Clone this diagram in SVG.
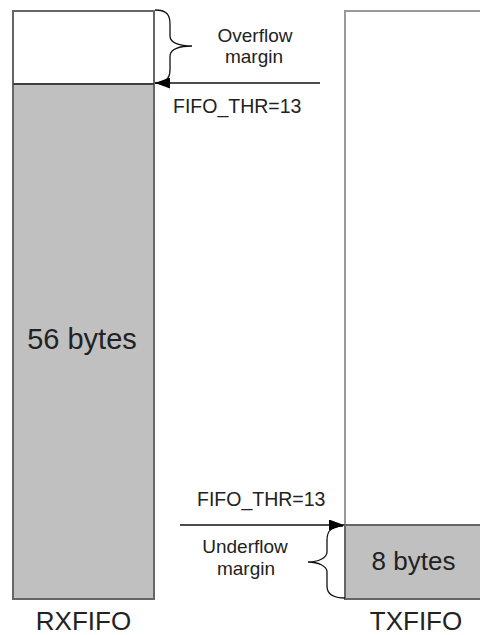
<svg xmlns="http://www.w3.org/2000/svg" width="480" height="635" viewBox="0 0 480 635">
<defs>
<style>
text{font-family:"Liberation Sans",Arial,sans-serif;fill:#222}
.big{font-size:26px}
.mid{font-size:19.5px}
.sm{font-size:19px}
.box{stroke:#666;stroke-width:2}
.conn{stroke:#111;stroke-width:1.5;fill:none}
.brace{stroke:#111;stroke-width:1.3;fill:none}
</style>
<marker id="ah" viewBox="0 0 15 11" refX="15" refY="5.5" markerWidth="15" markerHeight="11" markerUnits="userSpaceOnUse" orient="auto">
<path d="M0,0 L15,5.5 L0,11 Z" fill="#000"/>
</marker>
</defs>
<rect width="480" height="635" fill="#fff"/>
<g id="rxfifo">
<rect x="13" y="11" width="141" height="73" fill="#fff" class="box"/>
<rect x="13" y="84" width="141" height="515" fill="#c0c0c0" class="box"/>
<line x1="13" y1="84" x2="154" y2="84" stroke="#333" stroke-width="1.5"/>
<text x="82" y="349" class="big" style="font-size:29px" text-anchor="middle">56 bytes</text>
<text x="83.5" y="630" class="big" text-anchor="middle">RXFIFO</text>
</g>
<g id="txfifo">
<rect x="345" y="11" width="150" height="588" fill="#fff" stroke="#999" stroke-width="2"/>
<rect x="345" y="525" width="150" height="74" fill="#c0c0c0" class="box"/>
<text x="413.5" y="570" class="big" text-anchor="middle">8 bytes</text>
<text x="416" y="630" class="big" text-anchor="middle">TXFIFO</text>
</g>
<g id="overflow">
<path class="brace" d="M155,10 C166,10 170,14 170,24 L170,36 C170,43 180,46 192,46 C180,46 170,49 170,56 L170,70 C170,79 165,83 155,83"/>
<text x="255" y="42" class="sm" text-anchor="middle">Overflow</text>
<text x="254" y="63" class="sm" text-anchor="middle">margin</text>
<text x="173" y="113" class="mid">FIFO_THR=13</text>
</g>
<g id="underflow">
<path class="brace" d="M343,526 C332,526 327,530 327,540 L327,552 C327,558 318,562 308,562 C318,562 327,566 327,572 L327,586 C327,594 332,598 345,598"/>
<text x="245" y="553" class="sm" text-anchor="middle">Underflow</text>
<text x="246" y="575" class="sm" text-anchor="middle">margin</text>
<text x="197" y="506" class="mid">FIFO_THR=13</text>
</g>
<g id="connectors">
<line class="conn" x1="320" y1="83" x2="155" y2="83" marker-end="url(#ah)"/>
<line class="conn" x1="180" y1="525" x2="344" y2="525" marker-end="url(#ah)"/>
</g>
</svg>
